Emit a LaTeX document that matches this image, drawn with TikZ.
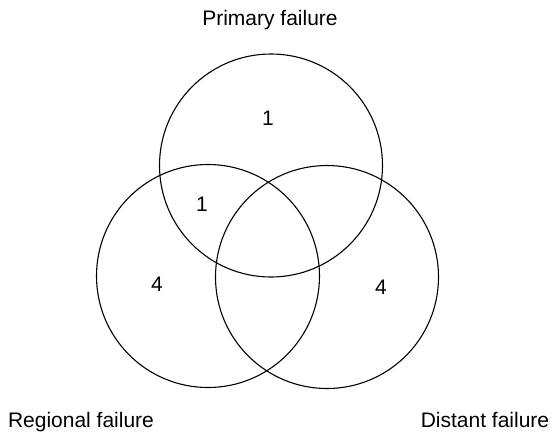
\documentclass[tikz,border=0pt]{standalone}
\usepackage{fontspec}
\setmainfont{Liberation Sans}

\begin{document}
\begin{tikzpicture}[
    x=1pt, y=-1pt,
    set/.style={draw, circle, line width=1.1pt, minimum size=223pt, inner sep=0pt},
    count/.style={font=\fontsize{21}{25}\selectfont, inner sep=0pt},
    title/.style={font=\fontsize{21}{25}\selectfont, anchor=base, inner sep=0pt},
]
\useasboundingbox (0,0) rectangle (551,432);

% the three sets
\node[set] (prim) at (271,165.5) {};
\node[set] (reg) at (208,276) {};
\node[set] (dist) at (327,277) {};

% counts in the regions
\node[count] (nprim) at (268,118) {1};
\node[count] (nprimreg) at (202,204) {1};
\node[count] (nreg) at (157,284) {4};
\node[count] (ndist) at (381,287) {4};

% names of the sets
\node[title] (lprim) at (270,25) {Primary failure};
\node[title] (lreg) at (81,427) {Regional failure};
\node[title] (ldist) at (485,427) {Distant failure};

\end{tikzpicture}
\end{document}
